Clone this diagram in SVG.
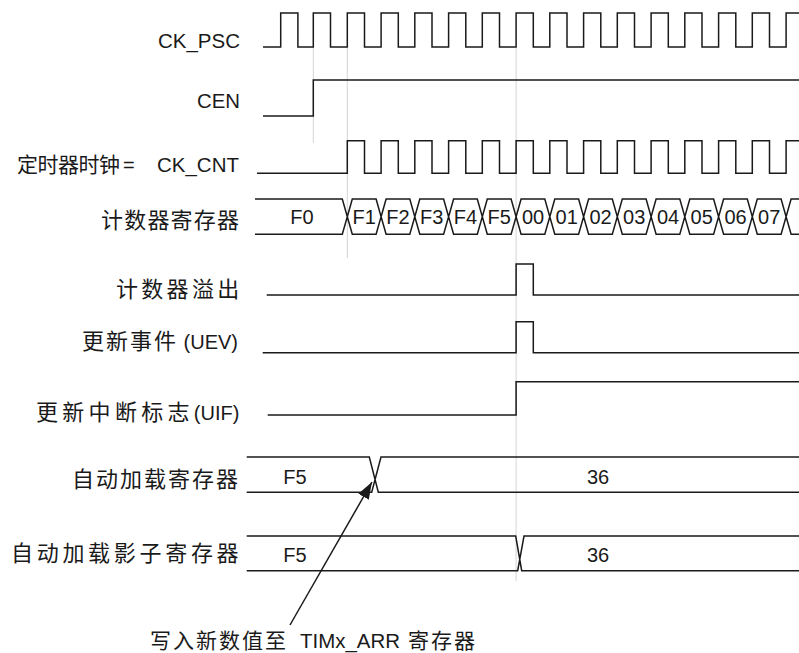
<svg xmlns="http://www.w3.org/2000/svg" width="799" height="653" viewBox="0 0 799 653">
<style>
.lbl{font-family:"Liberation Sans","Noto Sans CJK SC",sans-serif;font-size:20px;fill:#1a1a1a;}
.cjk{font-size:22px;}
.val{font-family:"Liberation Sans","Noto Sans CJK SC",sans-serif;font-size:20px;fill:#1a1a1a;text-anchor:middle;}
.sig{fill:none;stroke:#1a1a1a;stroke-width:1.5;stroke-linejoin:miter;}
.guide{fill:none;stroke:#d4d4d4;stroke-width:1;}
</style>
<defs>
<marker id="ah" markerUnits="userSpaceOnUse" markerWidth="18" markerHeight="12" refX="17" refY="6" orient="auto">
<path d="M0,0 L17,6 L0,12 Z" fill="#1a1a1a"/>
</marker>
</defs>
<rect width="799" height="653" fill="#ffffff"/>
<g id="guides">
<path class="guide" d="M313.3,47 V143 M347.3,48 V258 M516.1,48 V581"/>
</g>
<g id="ck_psc">
<text class="lbl" x="240" y="48" text-anchor="end" textLength="82" lengthAdjust="spacingAndGlyphs">CK_PSC</text>
<path class="sig" d="M263,47 H280.7 V13 H297.9 V47 H313.3 V13 H330.5 V47 H347.3 V13 H364.5 V47 H381.1 V13 H398.3 V47 H414.8 V13 H432 V47 H448.6 V13 H465.8 V47 H482.3 V13 H499.5 V47 H516.1 V13 H533.3 V47 H549.8 V13 H567 V47 H583.6 V13 H600.8 V47 H617.3 V13 H634.5 V47 H651.1 V13 H668.3 V47 H684.8 V13 H702 V47 H718.6 V13 H735.8 V47 H752.3 V13 H769.5 V47 H786.1 V13 H800"/>
</g>
<g id="cen">
<text class="lbl" x="240" y="108" text-anchor="end" textLength="43" lengthAdjust="spacingAndGlyphs">CEN</text>
<path class="sig" d="M263,116 H313.3 V80 H800"/>
</g>
<g id="ck_cnt">
<text class="lbl" y="172"><tspan x="17" style="font-size:21px;letter-spacing:-0.5px">定时器时钟</tspan><tspan> </tspan><tspan x="123">= </tspan><tspan x="157" textLength="82" lengthAdjust="spacingAndGlyphs">CK_CNT</tspan></text>
<path class="sig" d="M257,173.3 H347.3 V140.7 H364.5 V173.3 H381.1 V140.7 H398.3 V173.3 H414.8 V140.7 H432 V173.3 H448.6 V140.7 H465.8 V173.3 H482.3 V140.7 H499.5 V173.3 H516.1 V140.7 H533.3 V173.3 H549.8 V140.7 H567 V173.3 H583.6 V140.7 H600.8 V173.3 H617.3 V140.7 H634.5 V173.3 H651.1 V140.7 H668.3 V173.3 H684.8 V140.7 H702 V173.3 H718.6 V140.7 H735.8 V173.3 H752.3 V140.7 H769.5 V173.3 H786.1 V140.7 H800"/>
</g>
<g id="counter">
<text class="lbl cjk" x="101" y="228" style="letter-spacing:1.2px">计数器寄存器</text>
<path class="sig" d="M255,199 H342.3 L347.3,216.7 L342.3,234.3 H255
M347.3,216.7 L352.3,199 H376.1 L381.1,216.7 L376.1,234.3 H352.3 Z
M381.1,216.7 L386.1,199 H409.8 L414.8,216.7 L409.8,234.3 H386.1 Z
M414.8,216.7 L419.8,199 H443.6 L448.6,216.7 L443.6,234.3 H419.8 Z
M448.6,216.7 L453.6,199 H477.3 L482.3,216.7 L477.3,234.3 H453.6 Z
M482.3,216.7 L487.3,199 H511.1 L516.1,216.7 L511.1,234.3 H487.3 Z
M516.1,216.7 L521.1,199 H544.8 L549.8,216.7 L544.8,234.3 H521.1 Z
M549.8,216.7 L554.8,199 H578.6 L583.6,216.7 L578.6,234.3 H554.8 Z
M583.6,216.7 L588.6,199 H612.3 L617.3,216.7 L612.3,234.3 H588.6 Z
M617.3,216.7 L622.3,199 H646.1 L651.1,216.7 L646.1,234.3 H622.3 Z
M651.1,216.7 L656.1,199 H679.8 L684.8,216.7 L679.8,234.3 H656.1 Z
M684.8,216.7 L689.8,199 H713.6 L718.6,216.7 L713.6,234.3 H689.8 Z
M718.6,216.7 L723.6,199 H747.3 L752.3,216.7 L747.3,234.3 H723.6 Z
M752.3,216.7 L757.3,199 H781.1 L786.1,216.7 L781.1,234.3 H757.3 Z
M800,199 H791.1 L786.1,216.7 L791.1,234.3 H800"/>
<text class="val" x="302" y="224">F0</text>
<text class="val" x="364.2" y="224">F1</text>
<text class="val" x="398" y="224">F2</text>
<text class="val" x="431.7" y="224">F3</text>
<text class="val" x="465.5" y="224">F4</text>
<text class="val" x="499.2" y="224">F5</text>
<text class="val" x="533" y="224">00</text>
<text class="val" x="566.7" y="224">01</text>
<text class="val" x="600.5" y="224">02</text>
<text class="val" x="634.2" y="224">03</text>
<text class="val" x="668" y="224">04</text>
<text class="val" x="701.7" y="224">05</text>
<text class="val" x="735.5" y="224">06</text>
<text class="val" x="769.2" y="224">07</text>
</g>
<g id="overflow">
<text class="lbl cjk" x="116" y="296.5" style="letter-spacing:3.3px">计数器溢出</text>
<path class="sig" d="M266.7,295 H516.1 V264 H533.3 V295 H800"/>
</g>
<g id="uev">
<text class="lbl" x="82" y="349"><tspan class="cjk" style="letter-spacing:2px">更新事件</tspan> (UEV)</text>
<path class="sig" d="M262.7,352.7 H516.1 V321.7 H533.3 V352.7 H800"/>
</g>
<g id="uif">
<text class="lbl" x="36" y="420"><tspan class="cjk" style="letter-spacing:4.3px">更新中断标志</tspan>(UIF)</text>
<path class="sig" d="M267.7,415 H516.1 V381.7 H800"/>
</g>
<g id="arr">
<text class="lbl cjk" x="72" y="486.5" style="letter-spacing:2px">自动加载寄存器</text>
<path class="sig" d="M246.7,457 H369.3 L378.3,492.3 H800 M246.7,492.3 H371.7 L381,457 H800"/>
<text class="val" x="295" y="484">F5</text>
<text class="val" x="598" y="484">36</text>
</g>
<g id="shadow">
<text class="lbl cjk" x="11" y="561" style="letter-spacing:3.7px">自动加载影子寄存器</text>
<path class="sig" d="M246.7,536 H515.7 L521.7,570.7 H800 M246.7,570.7 H517.7 L524,536 H800"/>
<text class="val" x="295" y="562">F5</text>
<text class="val" x="598" y="562">36</text>
</g>
<g id="connectors">
<line x1="290" y1="625" x2="372" y2="482" stroke="#1a1a1a" stroke-width="1.5" marker-end="url(#ah)"/>
</g>
<g id="annotation">
<text class="lbl" y="648"><tspan x="150" style="font-size:21px;letter-spacing:2px">写入新数值至</tspan><tspan> </tspan><tspan x="300" textLength="100" lengthAdjust="spacingAndGlyphs">TIMx_ARR</tspan><tspan> </tspan><tspan x="408" style="font-size:21px;letter-spacing:2px">寄存器</tspan></text>
</g>
</svg>
